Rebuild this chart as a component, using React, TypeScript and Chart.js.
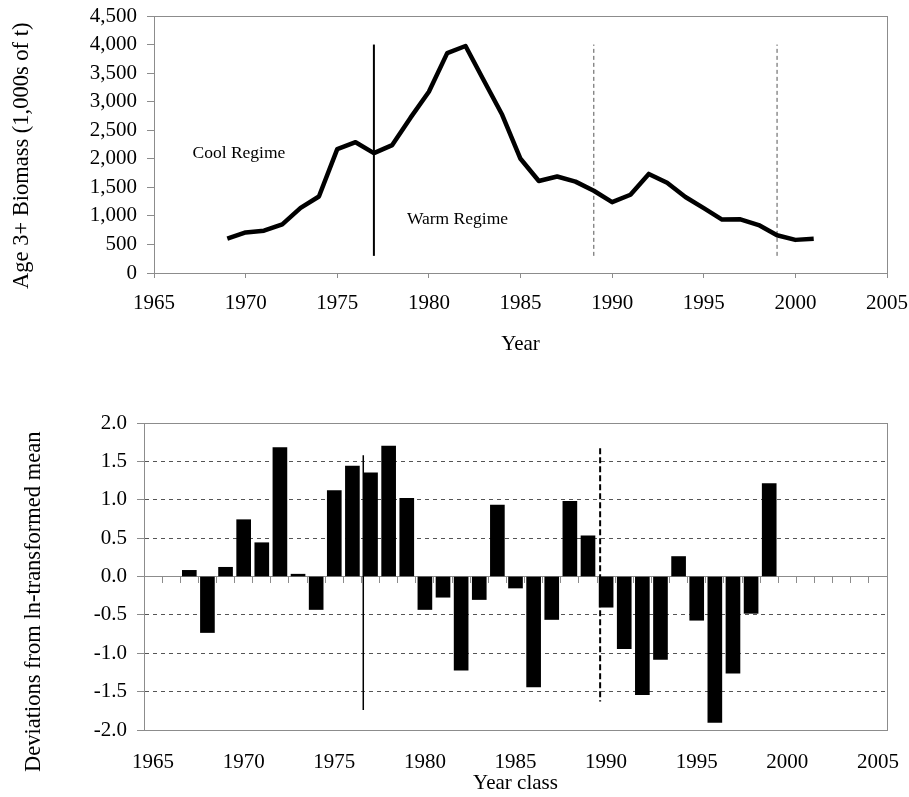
import React, { useEffect, useRef } from 'react';
import { Chart, registerables } from 'chart.js';

Chart.register(...registerables);

// ---------- Top panel data ----------
const BIOMASS_YEARS = [
  1969, 1970, 1971, 1972, 1973, 1974, 1975, 1976, 1977, 1978, 1979,
  1980, 1981, 1982, 1983, 1984, 1985, 1986, 1987, 1988, 1989, 1990,
  1991, 1992, 1993, 1994, 1995, 1996, 1997, 1998, 1999, 2000, 2001,
];
const BIOMASS = [
  600, 710, 740, 850, 1140, 1340, 2170, 2290, 2100, 2240, 2720,
  3175, 3850, 3975, 3370, 2770, 2000, 1610, 1690, 1600, 1440, 1240,
  1370, 1735, 1580, 1330, 1135, 935, 940, 840, 660, 580, 600,
];
const SHIFT_YEAR = 1977;
const SHIFT_RANGE = [300, 4000];
const DASH_YEARS = [1989, 1999];
const DASH_RANGE = [300, 4000];
const REGIME_LABELS = ['Cool Regime', 'Warm Regime'];
const REGIME_LABEL_X = [1967.1, 1978.8];
const REGIME_LABEL_Y = [2100, 930];

// ---------- Bottom panel data ----------
const YEAR_CLASSES = [
  1965, 1966, 1967, 1968, 1969, 1970, 1971, 1972, 1973, 1974, 1975,
  1976, 1977, 1978, 1979, 1980, 1981, 1982, 1983, 1984, 1985, 1986,
  1987, 1988, 1989, 1990, 1991, 1992, 1993, 1994, 1995, 1996, 1997,
  1998, 1999, 2000, 2001, 2002, 2003, 2004, 2005,
];
const DEVIATIONS: (number | null)[] = [
  null, null, 0.08, -0.73, 0.12, 0.74, 0.44, 1.68, 0.03, -0.43, 1.12,
  1.44, 1.35, 1.70, 1.02, -0.43, -0.27, -1.22, -0.30, 0.93, -0.15, -1.44,
  -0.56, 0.98, 0.53, -0.40, -0.94, -1.54, -1.08, 0.26, -0.57, -1.90, -1.26,
  -0.48, 1.21, null, null, null, null, null, null,
];
const SOLID_SHIFT_X = 1976.6;
const SOLID_SHIFT_Y = [1.58, -1.74];
const DASHED_SHIFT_X = 1989.67;
const DASHED_SHIFT_Y = [1.67, -1.63];

const FONT = '"Liberation Serif", "Times New Roman", serif';
const AXIS_GREY = '#8c8c8c';
const TXT = { family: FONT, size: 21 };
const YTITLE = { family: FONT, size: 22.5 };

const noPadX = (h: number) => (s: any) => {
  s.height = h;
  s.paddingLeft = 0;
  s.paddingRight = 0;
};
const noPadY = (w: number) => (s: any) => {
  s.width = w;
  s.paddingTop = 0;
  s.paddingBottom = 0;
};

function TopChart() {
  const ref = useRef<HTMLCanvasElement>(null);
  useEffect(() => {
    const canvas = ref.current!;
    const textPlugin = {
      id: 'regimeText',
      afterDatasetsDraw(chart: any) {
        const { ctx, scales } = chart;
        ctx.save();
        ctx.font = `17.5px ${FONT}`;
        ctx.fillStyle = '#000';
        ctx.textBaseline = 'middle';
        ctx.textAlign = 'left';
        REGIME_LABELS.forEach((t, i) => {
          ctx.fillText(t, scales.x.getPixelForValue(REGIME_LABEL_X[i]), scales.y.getPixelForValue(REGIME_LABEL_Y[i]));
        });
        ctx.restore();
      },
    };
    const chart = new Chart(canvas, {
      type: 'line',
      data: {
        datasets: [
          {
            data: BIOMASS_YEARS.map((x, i) => ({ x, y: BIOMASS[i] })),
            borderColor: '#000',
            borderWidth: 4.5,
            pointRadius: 0,
            borderJoinStyle: 'round',
            tension: 0,
          },
          {
            data: SHIFT_RANGE.map((y) => ({ x: SHIFT_YEAR, y })),
            borderColor: '#000',
            borderWidth: 2,
            pointRadius: 0,
          },
          ...DASH_YEARS.map((yr) => ({
            data: DASH_RANGE.map((y) => ({ x: yr, y })),
            borderColor: '#555',
            borderWidth: 1,
            borderDash: [4, 3],
            pointRadius: 0,
          })),
        ],
      } as any,
      options: {
        responsive: false,
        animation: false,
        layout: { padding: { left: 0, top: 16, right: 22, bottom: 0 } },
        plugins: { legend: { display: false }, tooltip: { enabled: false } },
        scales: {
          x: {
            type: 'linear',
            position: 'bottom',
            min: 1965,
            max: 2005,
            ticks: { stepSize: 5, autoSkip: false, font: TXT, color: '#000', padding: 13, maxRotation: 0, callback: (v: any) => String(v) },
            grid: { drawOnChartArea: false, drawTicks: true, tickLength: 5, tickColor: AXIS_GREY },
            border: { display: true, color: AXIS_GREY, width: 1 },
            title: { display: true, text: 'Year', font: TXT, color: '#000', padding: { top: 0, bottom: 3 } },
            afterFit: noPadX(87),
          },
          y: {
            type: 'linear',
            position: 'left',
            min: 0,
            max: 4500,
            ticks: { stepSize: 500, autoSkip: false, font: TXT, color: '#000', padding: 10, callback: (v: any) => Number(v).toLocaleString('en-US') },
            grid: { drawOnChartArea: false, drawTicks: true, tickLength: 7, tickColor: AXIS_GREY },
            border: { display: true, color: AXIS_GREY, width: 1 },
            title: { display: true, text: 'Age 3+ Biomass (1,000s of t)    ', font: YTITLE, color: '#000', padding: { top: 9, bottom: 0 } },
            afterFit: noPadY(154),
          },
          x2: {
            type: 'linear',
            position: 'top',
            ticks: { display: false },
            grid: { display: false, drawTicks: false },
            border: { display: true, color: AXIS_GREY, width: 1 },
            afterFit: noPadX(0),
          },
          y2: {
            type: 'linear',
            position: 'right',
            ticks: { display: false },
            grid: { display: false, drawTicks: false },
            border: { display: true, color: AXIS_GREY, width: 1 },
            afterFit: noPadY(0),
          },
        },
      } as any,
      plugins: [textPlugin],
    });
    return () => chart.destroy();
  }, []);
  return <canvas ref={ref} width={909} height={360} style={{ position: 'absolute', left: 0, top: 0, display: 'block' }} />;
}

function BottomChart() {
  const ref = useRef<HTMLCanvasElement>(null);
  useEffect(() => {
    const canvas = ref.current!;
    const chart = new Chart(canvas, {
      type: 'bar',
      data: {
        labels: YEAR_CLASSES.map(String),
        datasets: [
          {
            type: 'bar',
            data: DEVIATIONS,
            backgroundColor: '#000',
            borderWidth: 0,
            grouped: false,
            barThickness: 14,
            xAxisID: 'x',
            yAxisID: 'y',
            order: 2,
          },
          {
            type: 'line',
            data: SOLID_SHIFT_Y.map((y) => ({ x: SOLID_SHIFT_X, y })),
            xAxisID: 'xl',
            yAxisID: 'y',
            borderColor: '#000',
            borderWidth: 1.5,
            pointRadius: 0,
            order: 1,
          },
          {
            type: 'line',
            data: DASHED_SHIFT_Y.map((y) => ({ x: DASHED_SHIFT_X, y })),
            xAxisID: 'xl',
            yAxisID: 'y',
            borderColor: '#000',
            borderWidth: 2,
            borderDash: [6, 3],
            pointRadius: 0,
            order: 1,
          },
        ],
      } as any,
      options: {
        responsive: false,
        animation: false,
        layout: { padding: { left: 0, top: 53, right: 22, bottom: 0 } },
        plugins: { legend: { display: false }, tooltip: { enabled: false } },
        scales: {
          x: {
            type: 'category',
            position: 'bottom',
            offset: true,
            ticks: {
              autoSkip: false,
              maxRotation: 0,
              padding: 20,
              font: TXT,
              color: '#000',
              callback: (_v: any, i: number) => (YEAR_CLASSES[i] % 5 === 0 ? String(YEAR_CLASSES[i]) : ''),
            },
            grid: { display: false, drawTicks: false, offset: true },
            border: { display: true, color: AXIS_GREY, width: 1 },
            title: { display: true, text: 'Year class', font: TXT, color: '#000', padding: { top: 0, bottom: 1 } },
            afterFit: noPadX(67),
          },
          x0: {
            type: 'category',
            position: { y: 0 },
            offset: true,
            ticks: { display: false },
            grid: { display: true, drawOnChartArea: false, drawTicks: true, tickLength: 6, tickColor: AXIS_GREY, offset: true },
            border: { display: true, color: AXIS_GREY, width: 1 },
          },
          xl: { type: 'linear', display: false, offset: false, min: 1964.5, max: 2005.5, grid: { offset: false } },
          y: {
            type: 'linear',
            position: 'left',
            min: -2,
            max: 2,
            ticks: { stepSize: 0.5, autoSkip: false, padding: 10, font: TXT, color: '#000', callback: (v: any) => Number(v).toFixed(1) },
            grid: {
              drawOnChartArea: true,
              drawTicks: true,
              tickLength: 7,
              tickColor: AXIS_GREY,
              color: (c: any) => {
                const v = c.tick ? c.tick.value : null;
                return v === 0 || v === 2 || v === -2 ? 'rgba(0,0,0,0)' : '#555';
              },
            },
            border: { display: true, color: AXIS_GREY, width: 1, dash: [4, 4] },
            title: {
              display: true,
              text: 'Deviations from ln-transformed mean         ',
              font: YTITLE,
              color: '#000',
              padding: { top: 21, bottom: 0 },
            },
            afterFit: noPadY(144),
          },
          x2: {
            type: 'linear',
            position: 'top',
            ticks: { display: false },
            grid: { display: false, drawTicks: false },
            border: { display: true, color: AXIS_GREY, width: 1 },
            afterFit: noPadX(0),
          },
          y2: {
            type: 'linear',
            position: 'right',
            ticks: { display: false },
            grid: { display: false, drawTicks: false },
            border: { display: true, color: AXIS_GREY, width: 1 },
            afterFit: noPadY(0),
          },
        },
      } as any,
    });
    return () => chart.destroy();
  }, []);
  return <canvas ref={ref} width={909} height={427} style={{ position: 'absolute', left: 0, top: 370, display: 'block' }} />;
}

export default function App() {
  return (
    <div style={{ position: 'absolute', left: 0, top: 0, width: 909, height: 797, background: '#fff' }}>
      <TopChart />
      <BottomChart />
    </div>
  );
}
